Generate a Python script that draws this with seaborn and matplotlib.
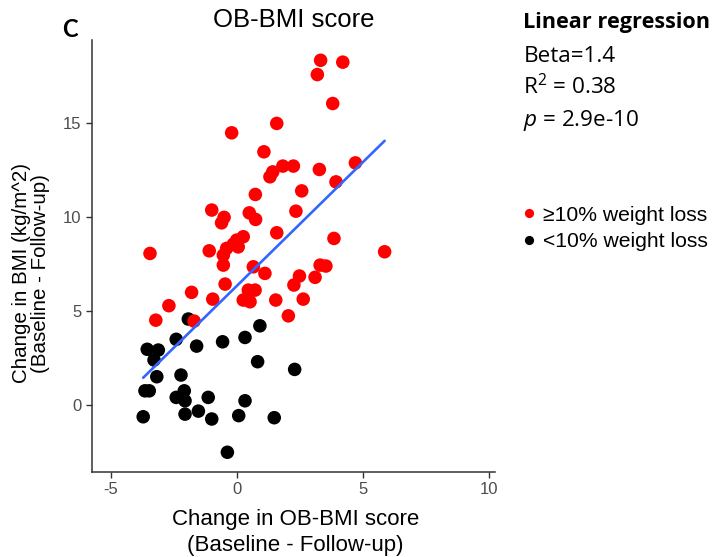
import numpy as np
import pandas as pd
import seaborn as sns
import matplotlib.pyplot as plt

# valores: >=10% de perda de peso (vermelho)
red_x = [-0.2, 1.59, 1.08, 1.83, 2.25, 1.43, 1.32, 2.58, 0.74, -0.99, -0.5, -0.6,
         0.5, 0.75, 2.35, 1.59, 0.26, 0.0, -0.13, 0.06, -0.4, -1.09, -3.44, -0.53,
         3.33, 4.21, 3.2, 3.81, 3.28, 4.71, 3.94, 3.86, 5.87, 3.31, 3.54, 2.49,
         3.11, 2.27, 2.64, 2.05, -0.53, 0.66, 1.12, -0.46, -1.79, -0.95, 0.46,
         0.73, 0.26, 0.53, 1.55, -2.69, -3.21, -1.69]
red_y = [14.46, 14.96, 13.45, 12.69, 12.69, 12.38, 12.12, 11.37, 11.18, 10.35, 9.96, 9.67,
         10.2, 9.85, 10.29, 9.14, 8.93, 8.75, 8.54, 8.39, 8.31, 8.18, 8.04, 7.95,
         18.32, 18.22, 17.56, 16.02, 12.51, 12.86, 11.85, 8.84, 8.13, 7.42, 7.37, 6.84,
         6.77, 6.36, 5.61, 4.72, 7.42, 7.33, 6.98, 6.41, 5.97, 5.61, 6.09,
         6.09, 5.56, 5.47, 5.56, 5.26, 4.49, 4.44]

# <10% de perda de peso (preto)
black_x = [-1.92, -2.4, -1.59, -0.56, 0.33, 0.92, 0.83, -3.55, -3.11, -3.28, -3.17,
           -2.21, -3.64, -3.47, -2.4, -2.08, -2.05, -1.13, 0.33, -3.71, -2.05, -1.52,
           -0.99, 0.08, 1.49, -0.37, 2.3]
black_y = [4.55, 3.47, 3.11, 3.34, 3.57, 4.19, 2.28, 2.94, 2.9, 2.37, 1.48,
           1.57, 0.73, 0.73, 0.38, 0.73, 0.2, 0.38, 0.2, -0.65, -0.51, -0.35,
           -0.77, -0.59, -0.7, -2.54, 1.87]

grupos = ['≥10% weight loss', '<10% weight loss']
cores = {'≥10% weight loss': '#FF0000', '<10% weight loss': '#000000'}
x_ticks = [-5, 0, 5, 10]
y_ticks = [0, 5, 10, 15]

df = pd.DataFrame({
    'x': black_x + red_x,
    'y': black_y + red_y,
    'grupo': [grupos[1]] * len(black_x) + [grupos[0]] * len(red_x),
})

sns.set_style('ticks')
arial = ['Liberation Sans', 'DejaVu Sans']
plt.rcParams['font.family'] = arial
plt.rcParams['axes.unicode_minus'] = False
plt.rcParams['text.color'] = 'black'
plt.rcParams['axes.labelcolor'] = 'black'
plt.rcParams['mathtext.fontset'] = 'custom'
plt.rcParams['mathtext.rm'] = 'Open Sans'
plt.rcParams['mathtext.it'] = 'Open Sans:italic'

fig = plt.figure(figsize=(7.14, 5.57), dpi=100)
ax = fig.add_axes([0.1289, 0.1526, 0.5644, 0.7756])

sns.scatterplot(data=df, x='x', y='y', hue='grupo', hue_order=grupos,
                palette=cores, s=95, linewidth=0, ax=ax)
sns.regplot(data=df, x='x', y='y', scatter=False, ci=None, color='#3366FF',
            line_kws={'lw': 1.9}, ax=ax)

ax.set_xlim(-5.74, 10.25)
ax.set_ylim(-3.59, 19.4)
ax.set_xticks(x_ticks)
ax.set_yticks(y_ticks)
ax.tick_params(labelsize=12, labelcolor='#4D4D4D', color='#333333', length=4, width=1)
for lab in ax.get_xticklabels() + ax.get_yticklabels():
    lab.set_family(arial)
sns.despine(ax=ax)
for sp in ['left', 'bottom']:
    ax.spines[sp].set_color('#333333')
    ax.spines[sp].set_linewidth(1.1)

ax.set_xlabel('Change in OB-BMI score\n(Baseline - Follow-up)', fontsize=16,
              linespacing=1.3, family=arial)
ax.xaxis.set_label_coords(0.504, -0.085)
ax.set_ylabel('Change in BMI (kg/m^2)\n(Baseline - Follow-up)', fontsize=14.8,
              linespacing=1.0, family=arial)
ax.yaxis.set_label_coords(-0.104, 0.46)
ax.set_title('OB-BMI score', fontsize=18.5, pad=9, family=arial)

sns.move_legend(ax, 'upper left', bbox_to_anchor=(0.7115, 0.65),
                bbox_transform=fig.transFigure, frameon=False, title=None,
                markerscale=0.68, handletextpad=0.15,
                labelspacing=0.35, borderpad=0, handlelength=1.0,
                prop={'family': arial, 'size': 15.2})

fig.text(0.087, 0.934, 'C', fontsize=17, fontweight='bold', family='Lato')
fig.text(0.733, 0.9497, 'Linear regression', fontsize=15.6, fontweight='bold', family='Open Sans')
fig.text(0.733, 0.8887, 'Beta=1.4', fontsize=16.2, family='Open Sans')
fig.text(0.733, 0.8312, 'R$^2$ = 0.38', fontsize=16.2, family='Open Sans')
fig.text(0.733, 0.7738, '$p$ = 2.9e-10', fontsize=16.2, family='Open Sans')

fig.savefig('out.png', dpi=100)
